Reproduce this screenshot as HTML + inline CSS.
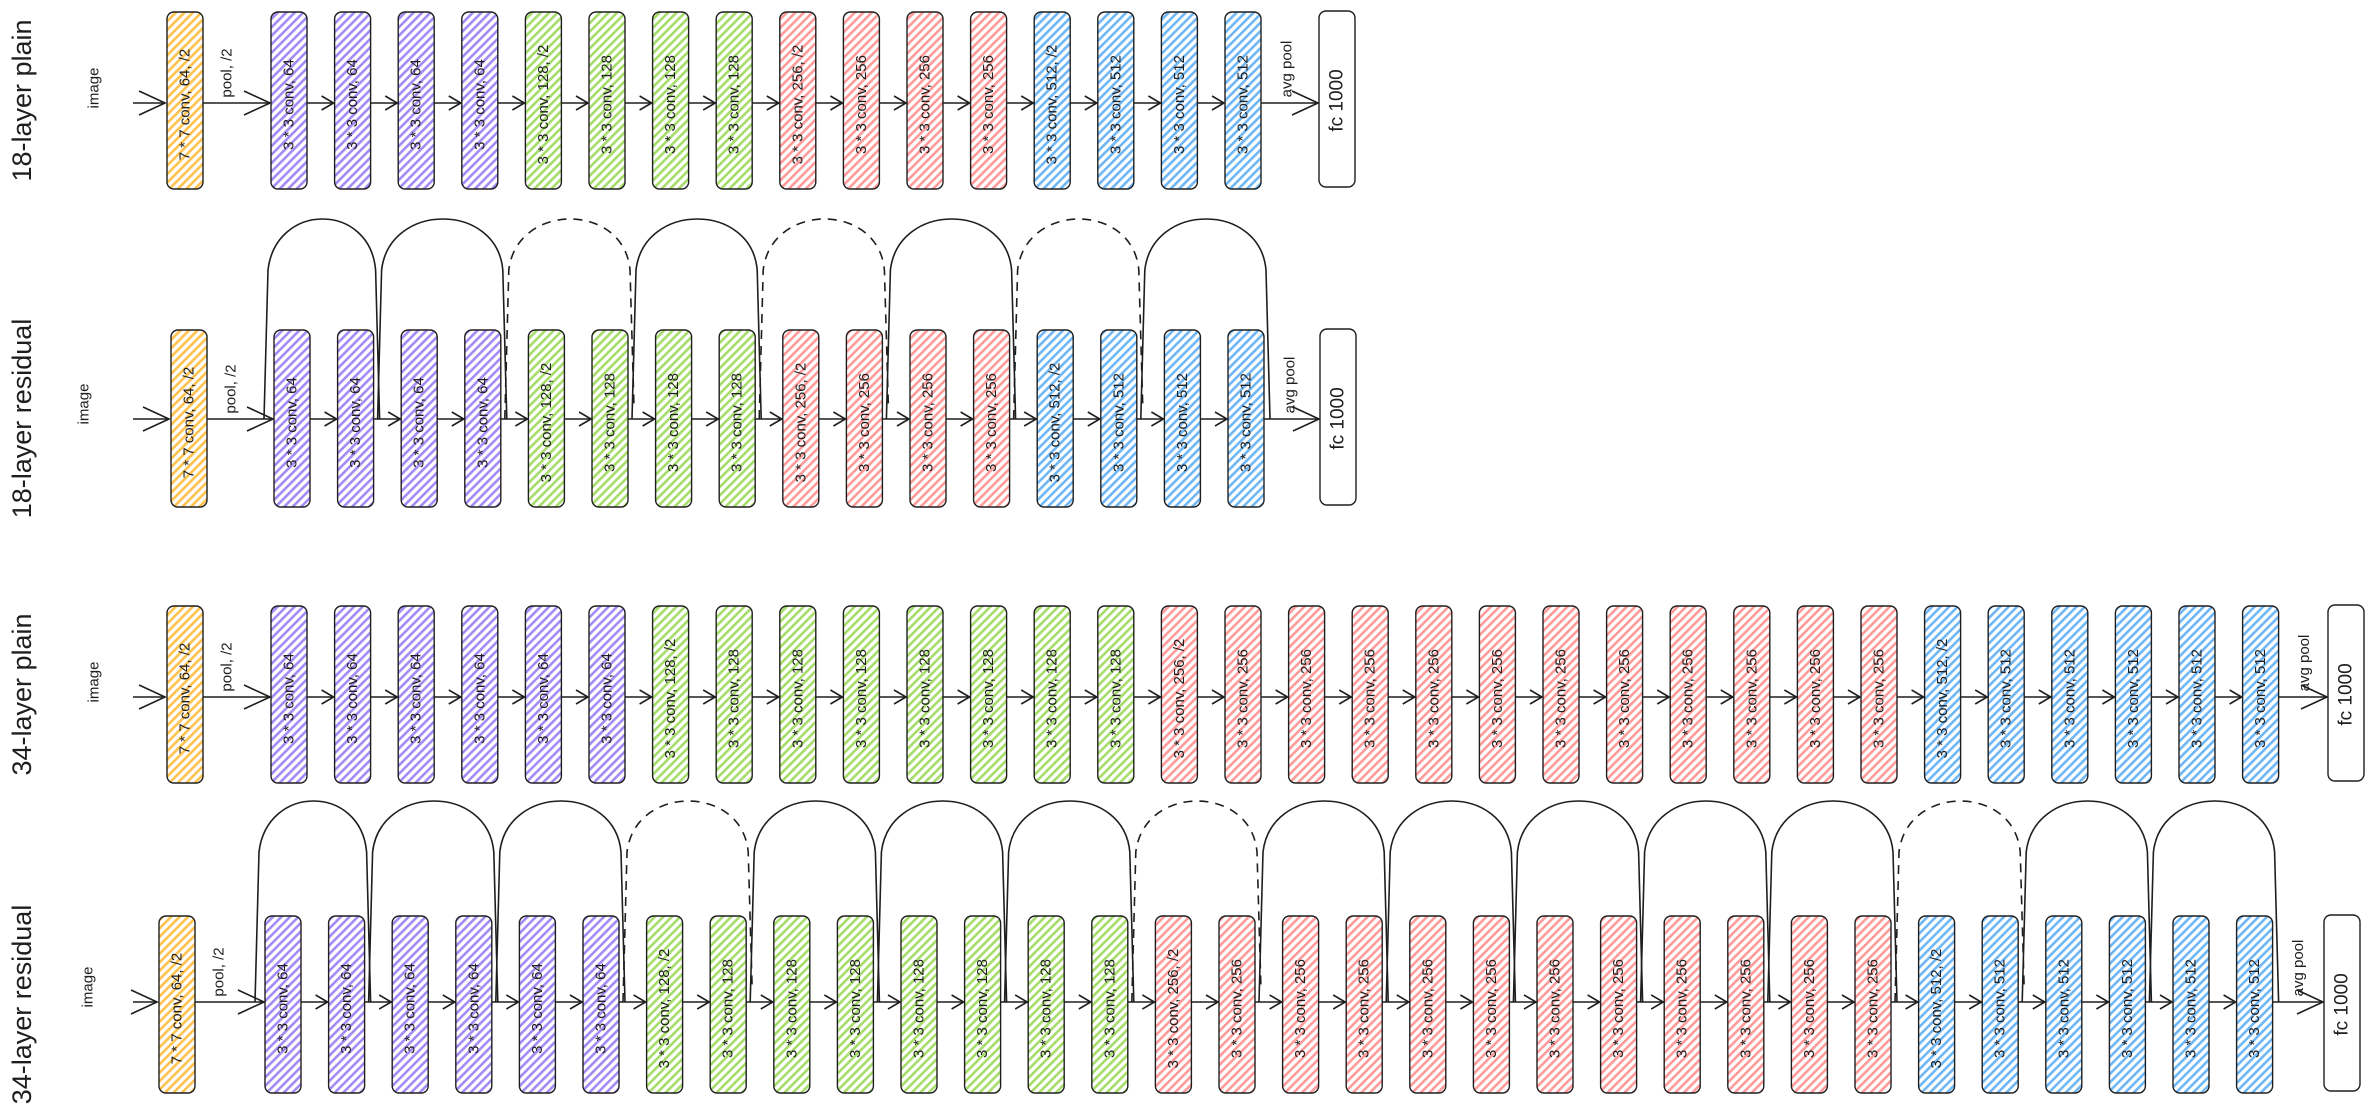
<!DOCTYPE html>
<html><head><meta charset="utf-8"><style>
html,body{margin:0;padding:0;background:#fff;}
svg{display:block}
text{font-family:"Liberation Sans",sans-serif;fill:#1e1e1e}
</style></head><body>
<svg id="s" width="2374" height="1113" viewBox="0 0 2374 1113" xmlns="http://www.w3.org/2000/svg">
<defs>
<pattern id="p-o" width="6" height="6" patternUnits="userSpaceOnUse" patternTransform="rotate(45)"><rect width="6" height="6" fill="#fff"/><rect width="2.6" height="6" fill="#ffc24d"/></pattern>
<pattern id="p-p" width="6" height="6" patternUnits="userSpaceOnUse" patternTransform="rotate(45)"><rect width="6" height="6" fill="#fff"/><rect width="2.6" height="6" fill="#a48af5"/></pattern>
<pattern id="p-g" width="6" height="6" patternUnits="userSpaceOnUse" patternTransform="rotate(45)"><rect width="6" height="6" fill="#fff"/><rect width="2.6" height="6" fill="#a6dc6a"/></pattern>
<pattern id="p-r" width="6" height="6" patternUnits="userSpaceOnUse" patternTransform="rotate(45)"><rect width="6" height="6" fill="#fff"/><rect width="2.6" height="6" fill="#ff9a9a"/></pattern>
<pattern id="p-b" width="6" height="6" patternUnits="userSpaceOnUse" patternTransform="rotate(45)"><rect width="6" height="6" fill="#fff"/><rect width="2.6" height="6" fill="#6fb6f5"/></pattern>
</defs>
</svg>
<script>
var s=document.getElementById('s');var NS='http://www.w3.org/2000/svg';
function el(t,a,txt){var e=document.createElementNS(NS,t);for(var k in a)e.setAttribute(k,a[k]);if(txt)e.textContent=txt;s.appendChild(e);return e;}
function vtext(x,y,str,fs){el('text',{x:x,y:y,'font-size':fs,'text-anchor':'middle','dominant-baseline':'central',transform:'rotate(-90 '+x+' '+y+')'},str);}
function arrow(x1,x2,y,big){el('line',{x1:x1,y1:y,x2:x2,y2:y,stroke:'#1e1e1e','stroke-width':1.6});var L=big?26:12,H=big?12:7;
el('path',{d:'M'+(x2-L)+','+(y-H)+' L'+x2+','+y+' L'+(x2-L)+','+(y+H),fill:'none',stroke:'#1e1e1e','stroke-width':1.6});}
function box(x,y,h,pat,label){el('rect',{x:x,y:y,width:36,height:h,rx:7,fill:pat?'url(#p-'+pat+')':'#fff',stroke:'#1e1e1e','stroke-width':1.4});vtext(x+18,y+h/2+4,label,pat?15:20);}
var rows=[
 {title:'18-layer plain',tx:22,img:94,oy:12,ay:103,ox:167,px:271,fc:1319,n:[2,2,2,2],res:false},
 {title:'18-layer residual',tx:22,img:84,oy:330,ay:419,ox:171,px:274,fc:1320,n:[2,2,2,2],res:true,top:220},
 {title:'34-layer plain',tx:22,img:94,oy:606,ay:697,ox:167,px:271,fc:2328,n:[3,4,6,3],res:false},
 {title:'34-layer residual',tx:22,img:88,oy:916,ay:1002,ox:159,px:265,fc:2324,n:[3,4,6,3],res:true,top:802}
];
var ch=[64,128,256,512],pats=['p','g','r','b'];
rows.forEach(function(r,ri){
 var H=177,sp=63.6;
 var cnt=r.n.map(function(v){return v*2;});
 var total=cnt.reduce(function(a,b){return a+b;},0);
 vtext(r.tx,r.oy+H/2,r.title,27);
 vtext(r.img,r.ay-15,'image',15);
 arrow(133,r.ox-2,r.ay,true);
 box(r.ox,r.oy,H,'o','7 * 7 conv, 64, /2');
 arrow(r.ox+36,r.px-1,r.ay,true);
 vtext(r.ox+60,r.ay-30,'pool, /2',15);
 var xs=[],idx=0,stageStart=[];
 for(var st=0;st<4;st++){for(var j=0;j<cnt[st];j++){var x=r.px+idx*sp;xs.push(x);
  var lab='3 * 3 conv, '+ch[st]+((j==0&&st>0)?', /2':'');
  box(x,r.oy,H,pats[st],lab);
  if(j==0)stageStart.push(idx);
  if(idx>0)arrow(xs[idx-1]+36,x-1,r.ay,false);
  idx++;}}
 var last=xs[xs.length-1]+36;
 arrow(last,r.fc-1,r.ay,true);
 vtext(last+26,r.ay-34,'avg pool',15);
 el('rect',{x:r.fc,y:r.oy-1,width:36,height:H-1,rx:7,fill:'#fff',stroke:'#1e1e1e','stroke-width':1.4});
 vtext(r.fc+18,r.oy+H/2,'fc 1000',19);
 if(r.res){
  for(var b=0;b<total;b+=2){
   var xa=(b==0?r.px-10:xs[b-1]+40), xb=xs[b+1]+44;
   var dashed=stageStart.indexOf(b)>0;
   var t=r.top,sh=t+50,c=t-18;
   var d='M'+xa+','+r.ay+' L'+(xa+4)+','+sh+' C'+(xa+12)+','+c+' '+(xb-12)+','+c+' '+(xb-6)+','+sh+' L'+(xb-2)+','+(dashed?r.ay-12:r.ay);
   el('path',{d:d,fill:'none',stroke:'#1e1e1e','stroke-width':1.6,'stroke-dasharray':dashed?'9 7':'none'});
  }
 }
});
</script>
</body></html>
